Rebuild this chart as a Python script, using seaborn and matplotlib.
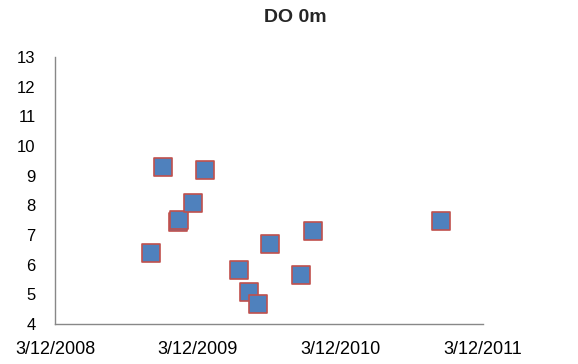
import matplotlib
matplotlib.use("Agg")
import matplotlib.pyplot as plt
import seaborn as sns
import pandas as pd

dates = ["2008-11-12", "2008-12-14", "2009-01-20", "2009-01-23", "2009-02-27",
         "2009-03-31", "2009-06-26", "2009-07-22", "2009-08-13", "2009-09-13",
         "2009-12-01", "2010-01-01", "2010-11-25"]
do_values = [6.38, 9.30, 7.45, 7.50, 8.07, 9.19, 5.82, 5.07, 4.67, 6.70, 5.65, 7.12, 7.47]
x_ticks = ["2008-03-12", "2009-03-12", "2010-03-12", "2011-03-12"]
x_tick_labels = ["3/12/2008", "3/12/2009", "3/12/2010", "3/12/2011"]
y_ticks = list(range(4, 14))

df = pd.DataFrame({"date": pd.to_datetime(dates), "DO": do_values})

sns.set_theme(style="white")
plt.rcParams['font.family'] = ['Liberation Sans', 'DejaVu Sans']

fig = plt.figure(figsize=(5.78, 3.64), dpi=100)
ax = fig.add_axes([55/578, 1 - 324/364, (483-55)/578, (324-57)/364])

sns.scatterplot(data=df, x="date", y="DO", ax=ax, marker="s", s=150,
                color="#4F81BD", edgecolor="#C0504D", linewidth=1.2, legend=False)

xt = pd.to_datetime(x_ticks)
ax.set_xlim(xt[0], xt[-1])
ax.set_xticks(xt)
ax.set_xticklabels(x_tick_labels, fontsize=13, color="black")
ax.set_ylim(4, 13)
ax.set_yticks(y_ticks)
ax.set_yticklabels([str(v) for v in y_ticks], fontsize=12, color="black")
ax.tick_params(axis="both", length=0)
ax.tick_params(axis="y", pad=14)
ax.tick_params(axis="x", pad=12)
ax.set_xlabel("")
ax.set_ylabel("")
for s in ["top", "right"]:
    ax.spines[s].set_visible(False)
for s in ["left", "bottom"]:
    ax.spines[s].set_color("#888888")
    ax.spines[s].set_linewidth(1.0)

fig.text(295/578, 1 - 18/364, "DO 0m", ha="center", va="center", fontsize=14, fontweight="bold")

fig.savefig("out.png", dpi=100)
